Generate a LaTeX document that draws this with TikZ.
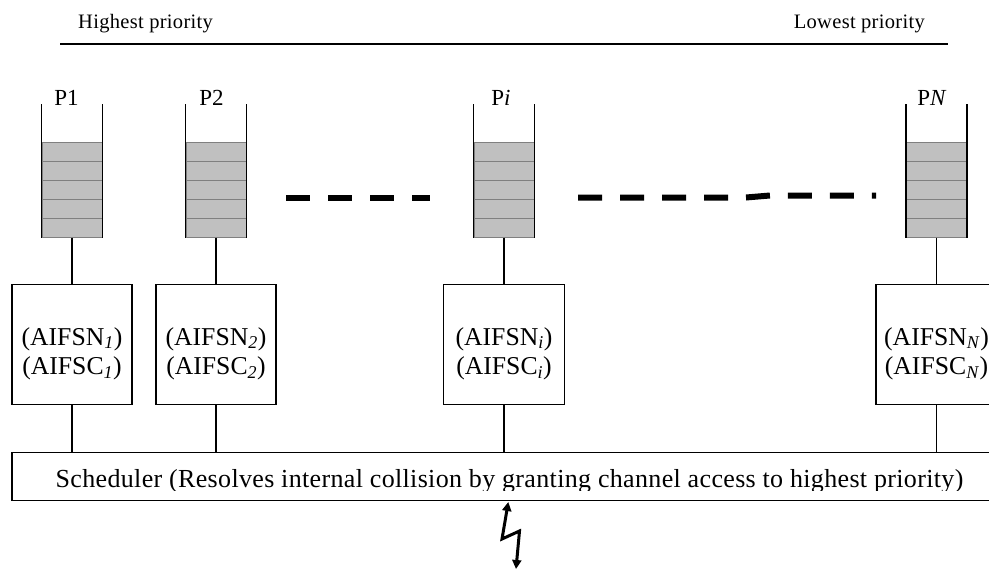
\documentclass[tikz,border=0pt]{standalone}
\usepackage{fontspec}
\setmainfont{Liberation Serif}
\usetikzlibrary{arrows.meta}
\definecolor{qfill}{RGB}{192,192,192}
\definecolor{qline}{RGB}{128,128,128}
\newcommand{\sbi}[1]{\textsubscript{\textit{#1}}}
\newfontfamily\schedfont[LetterSpace=1.3]{Liberation Serif}
\newfontfamily\topfont[LetterSpace=1.5]{Liberation Serif}
\begin{document}
\begin{tikzpicture}[x=1pt,y=-1pt,
  wall/.style={line width=1.6pt},
  conn/.style={line width=1.4pt},
  queue/.style={rectangle,fill=qfill,draw=qline,line width=1pt,minimum width=60pt,minimum height=95pt,inner sep=0pt},
  divider/.style={draw=qline,line width=1pt},
  pbox/.style={rectangle,draw,line width=1.5pt,minimum width=120pt,minimum height=120pt,inner sep=0pt},
  ptext/.style={align=center,inner sep=0pt,font=\fontsize{25.7}{29.7}\selectfont},
  plabel/.style={anchor=base,inner sep=0pt,font=\fontsize{23}{26}\selectfont},
  toplabel/.style={inner sep=0pt,font=\topfont\fontsize{20.5}{24}\selectfont},
  dots/.style={line width=6pt,dash pattern=on 24pt off 18pt},
  bolt/.style={line width=3pt,{Triangle[length=9pt,width=9pt]}-{Triangle[length=9pt,width=9pt]}}
]
\clip (0,0) rectangle (989,570);
\useasboundingbox (0,0) rectangle (989,570);

% top priority axis
\node[toplabel,anchor=base west] (hi) at (78,28.3) {Highest priority};
\node[toplabel,anchor=base east] (lo) at (925,28.3) {Lowest priority};
\coordinate (axl) at (60,44);
\coordinate (axr) at (948,44);
\draw[line width=1.5pt] (axl) -- (axr);

% queues
\foreach \n/\x in {1/72,2/216,i/504,N/936.5}{
  \node[queue] (q\n) at (\x,189.5) {};
  \foreach \y in {161,180,199,218}
    \draw[divider] (\x-30,\y) -- (\x+30,\y);
  \draw[wall] (q\n.south west) -- ++(0,-134);
  \draw[wall] (q\n.south east) -- ++(0,-134);
}
\node[plabel] (l1) at (66.5,105) {P1};
\node[plabel] (l2) at (211.5,105) {P2};
\node[plabel] (li) at (501,105) {P\textit{i}};
\node[plabel] (lN) at (932,105) {P\textit{N}};

% ellipsis dashes
\coordinate (d1a) at (286,197.5);
\coordinate (d1b) at (430,197.5);
\draw[dots] (d1a) -- (d1b);
\coordinate (d2a) at (578,197.5);
\coordinate (d2b) at (746,197.5);
\coordinate (d2c) at (770,195.5);
\coordinate (d2d) at (876,195.5);
\draw[dots] (d2a) -- (d2b) -- (d2c) -- (d2d);

% parameter boxes
\node[pbox] (b1) at (72,344.7) {};
\node[pbox] (b2) at (216,344.7) {};
\node[pbox,minimum width=121pt] (bi) at (504,344.7) {};
\node[pbox,minimum width=121pt] (bN) at (936.5,344.7) {};
\node[ptext] (t1) at ([yshift=-9pt]b1.center) {(AIFSN\sbi{1})\\(AIFSC\sbi{1})};
\node[ptext] (t2) at ([yshift=-9pt]b2.center) {(AIFSN\sbi{2})\\(AIFSC\sbi{2})};
\node[ptext] (ti) at ([yshift=-9pt]bi.center) {(AIFSN\sbi{i})\\(AIFSC\sbi{i})};
\node[ptext] (tN) at ([yshift=-9pt]bN.center) {(AIFSN\sbi{N})\\(AIFSC\sbi{N})};

% scheduler
\node[rectangle,draw,line width=1.5pt,minimum width=995pt,minimum height=48pt,inner sep=0pt] (s) at (509.5,476.7) {};
\begin{scope}
  \clip (s.north west) rectangle (1007,490);
  \node[anchor=base,inner sep=0pt,font=\schedfont\fontsize{26}{30}\selectfont] (st) at (509.5,487)
    {Scheduler (Resolves internal collision by granting channel access to highest priority)};
\end{scope}

% connectors
\foreach \n in {1,2,i,N}{
  \draw[conn] (q\n.south) -- (b\n.north);
  \draw[conn] (b\n.south) -- (b\n.south |- s.north);
}

% wireless link
\coordinate (z0) at (508.3,502);
\coordinate (z1) at (502,539);
\coordinate (z2) at (519.5,531);
\coordinate (z3) at (516,569);
\draw[bolt,line join=miter] (z0) -- (z1) -- (z2) -- (z3);
\end{tikzpicture}
\end{document}
